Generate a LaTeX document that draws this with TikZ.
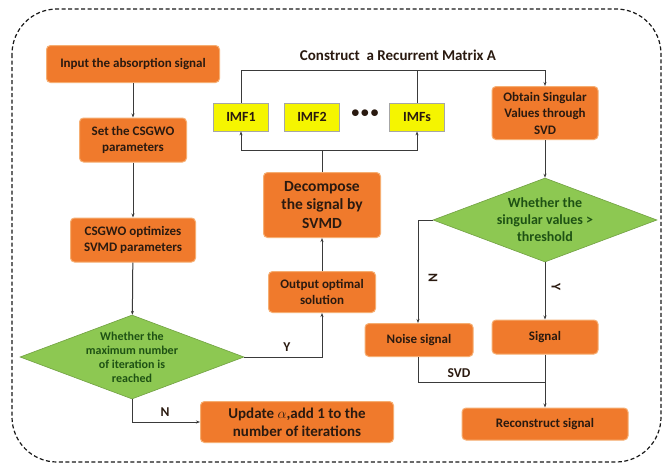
\documentclass[tikz,border=0pt]{standalone}
\usepackage{fontspec}
\setmainfont{Carlito}
\usetikzlibrary{shapes.geometric,arrows.meta}
\definecolor{orf}{HTML}{F07A2C}
\definecolor{orb}{HTML}{F6AE72}
\definecolor{grf}{HTML}{8DC852}
\definecolor{grt}{HTML}{1E5214}
\definecolor{lnc}{HTML}{3A3A3A}
\definecolor{yel}{HTML}{F5F500}
\definecolor{txt}{HTML}{2A1A10}
\tikzset{
  x=1pt, y=-1pt,
  obox/.style={draw=orb, line width=1pt, fill=orf, rounded corners=4pt, align=center,
    font=\bfseries\fontsize{13}{16}\selectfont, text=txt, inner sep=1pt},
  ybox/.style={draw=gray!70, line width=0.8pt, fill=yel, align=center,
    font=\bfseries\fontsize{14}{15}\selectfont, text=txt, minimum width=55pt, minimum height=28pt, inner sep=0pt},
  dia/.style={diamond, draw=grf!80!black, line width=0.6pt, fill=grf, minimum width=224pt, minimum height=84pt, inner sep=0pt, aspect=2.67},
  diat/.style={align=center, font=\bfseries\fontsize{12}{14}\selectfont, text=grt},
  lbl/.style={font=\bfseries\fontsize{13.5}{14}\selectfont, text=txt},
  arr/.style={draw=lnc, line width=1pt, -{Stealth[length=4pt,width=3pt]}},
  ln/.style={draw=lnc, line width=1pt},
}
\begin{document}
\begin{tikzpicture}
\useasboundingbox (0,0) rectangle (668,469);
\fill[white] (0,0) rectangle (668,469);
\draw[line width=1.2pt, gray!20!black, dash pattern=on 4pt off 2.5pt, rounded corners=45pt] (12,9) rectangle (661,462);

% left column
\node[obox, minimum width=173pt, minimum height=37pt] (in) at (133,64) {Input the absorption signal};
\node[obox, minimum width=107pt, minimum height=44pt] (set) at (133,140) {Set the CSGWO\\parameters};
\node[obox, minimum width=125pt, minimum height=44pt] (opt) at (133,240) {CSGWO optimizes\\SVMD parameters};
\node[dia] (d1) at (132,357) {};
\node[diat] (d1t) at (132,357) {Whether the\\maximum number\\of iteration is\\reached};
\node[obox, minimum width=193pt, minimum height=41pt, font=\bfseries\fontsize{15}{18}\selectfont] (upd) at (297,422) {Update $\alpha$,add 1 to the\\number of iterations};

% middle column
\node[obox, minimum width=107pt, minimum height=41pt] (out) at (322,292) {Output optimal\\solution};
\node[obox, minimum width=117pt, minimum height=65pt, font=\bfseries\fontsize{15.5}{18.5}\selectfont] (dec) at (322,205) {Decompose\\the signal by\\SVMD};
\node[ybox] (imf1) at (241,117) {IMF1};
\node[ybox] (imf2) at (312,117) {IMF2};
\node[lbl, font=\bfseries\fontsize{17}{17}\selectfont] (dots) at (365,114) {$\bullet\!\bullet\!\bullet$};
\node[ybox] (imfs) at (417,117) {IMFs};
\node[lbl, font=\bfseries\fontsize{15}{16}\selectfont] (cons) at (398,55) {Construct\ \ a Recurrent Matrix A};

% right column
\node[obox, minimum width=106pt, minimum height=53pt, font=\bfseries\fontsize{13}{16.5}\selectfont] (obt) at (545,113) {Obtain Singular\\Values through\\SVD};
\node[dia] (d2) at (545,220) {};
\node[diat, font=\bfseries\fontsize{14}{17}\selectfont] (d2t) at (545,220) {Whether the\\singular values >\\threshold};
\node[obox, minimum width=108pt, minimum height=33pt] (noise) at (419,340) {Noise signal};
\node[obox, minimum width=106pt, minimum height=34pt] (sig) at (545,337) {Signal};
\node[obox, minimum width=166pt, minimum height=32pt] (rec) at (545,424) {Reconstruct signal};

% connectors left
\draw[arr] (in) -- (set);
\draw[arr] (set) -- (opt);
\draw[arr] (opt) -- (d1);
\draw[arr] (d1.east) -| (out.south);
\node[lbl] (ylab) at (287,347) {Y};
\draw[arr] (d1.south) |- (upd.west);
\node[lbl] (nlab) at (165,412) {N};

% middle connectors
\draw[arr] (out) -- (dec);
\coordinate (jb) at (322,150);
\draw[ln] (dec.north) -- (jb);
\draw[arr] (jb) -| (imf1.south);
\draw[arr] (jb) -| (imfs.south);
\coordinate (tr) at (545,70);
\draw[ln] (imf1.north) |- (tr);
\draw[ln] (imfs.north) -- (imfs.north |- tr);
\draw[arr] (tr) -- (obt.north);

% right connectors
\draw[arr] (obt) -- (d2);
\coordinate (dl) at (418,220);
\draw[ln] (d2.west) -- (dl);
\draw[arr] (dl) -- (dl |- noise.north);
\node[lbl, rotate=-90] (n2lab) at (433,278) {N};
\draw[arr] (d2.south) -- (sig.north);
\node[lbl, rotate=-90] (y2lab) at (556,287) {Y};
\coordinate (jr) at (545,382);
\draw[ln] (dl |- noise.south) |- (jr);
\node[lbl, font=\bfseries\fontsize{13.5}{14}\selectfont] (svd) at (459,373) {SVD};
\draw[arr] (sig.south) -- (rec.north);
\end{tikzpicture}
\end{document}
